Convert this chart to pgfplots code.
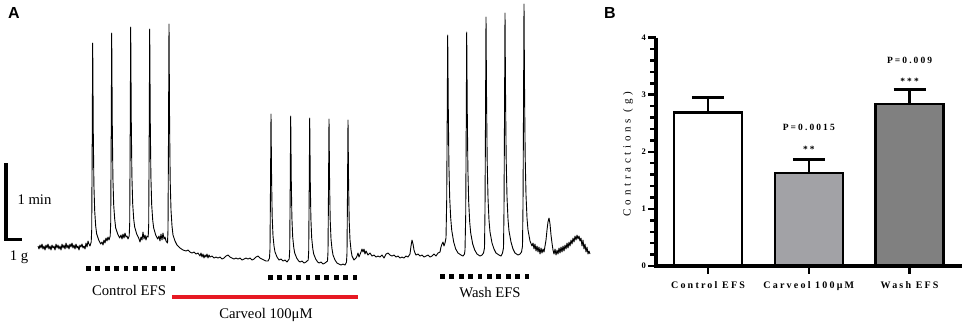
\documentclass[border=0pt]{standalone}
\usepackage{fontspec}
\setmainfont{Liberation Serif}
\newfontfamily\sansbf{Liberation Sans}
\newfontfamily\lsp[LetterSpace=22]{Liberation Serif}
\newfontfamily\lspy[LetterSpace=34]{Liberation Serif}
\usepackage{pgfplots}
\pgfplotsset{compat=1.18}
\definecolor{redbar}{RGB}{230,25,35}
\definecolor{carv}{RGB}{162,162,166}
\definecolor{wash}{RGB}{128,128,128}
\begin{document}
\begin{tikzpicture}
\useasboundingbox (0,0) rectangle (969pt,-327pt);
% ---------------- Panel A ----------------
\begin{axis}[at={(0pt,0pt)}, anchor=north west, scale only axis,
  width=969pt, height=327pt, xmin=0, xmax=969, ymin=0, ymax=327,
  y dir=reverse, hide axis, clip=false]
\addplot[black, line width=0.9pt, line join=round] coordinates {
(38,246)(39,249)(40,245)(41,248)(42,244)(43,249)(44,246)(45,250)(46,245)(47,248)
(48,244)(49,249)(50,246)(51,250)(52,245)(53,248)(54,246)(55,250)(56,244)(57,248)
(58,245)(59,249)(60,246)(61,250)(62,244)(63,248)(64,245)(65,249)(66,243)(67,248)
(68,245)(69,249)(70,244)(71,247)(72,243)(73,248)(74,245)(75,249)(76,244)(77,248)
(78,246)(79,250)(80,245)(81,247)(82,244)(83,248)(84,246)(85,249)(86,243)(87,247)
(88,241)(89,244)(90,246)
(91.2,242)(91.7,230)(92.2,144)(92.7,43)(93.3,134)(93.9,185)(94.7,211)(95.7,226)(96.7,234)(98.7,240)(100.7,244)
(102,242)(103,245)(104,240)(105,243)(106,238)(107,241)(108,237)(109,240)
(110.2,236)(110.7,223)(111.2,136)(111.7,33)(112.3,126)(112.9,178)(113.7,205)(114.7,219)(115.7,228)(117.7,234)(119.7,238)
(121,235)(122,239)(123,234)(124,238)(125,233)(126,237)(127,236)(128,239)
(129.2,236)(129.7,223)(130.2,134)(130.7,27)(131.3,123)(131.9,176)(132.7,204)(133.7,219)(134.7,227)(136.7,234)(138.7,238)
(140,242)(141,237)(142,240)(143,232)(144,239)(145,235)(146,240)(147,236)
(148.2,237)(148.7,224)(149.2,135)(149.7,29)(150.3,124)(150.9,177)(151.7,205)(152.7,220)(153.7,228)(155.7,235)(157.7,239)
(159,236)(160,241)(161,234)(162,240)(163,233)(164,239)(165,237)(166,241)
(167.5,243)(168,230)(168.5,136)(169,24)(169.6,125)(170.2,181)(171,210)(172,226)(173,235)(175,241)(177,245)(180,248)(183,250)(186,251)
(188,250)(190,252)(192,253)(194,252)(196,254)(198,253)(200,256)(201,253)(202,257)(203,254)(204,258)(205,255)(206,257)(207,254)
(208,258)(209,255)(210,257)(212,256)(214,258)(216,257)(218,258)(220,257)(222,259)(224,258)(226,256)(228,255)(230,257)
(232,258)(234,259)(236,258)(238,259)(240,258)(242,260)(244,259)(246,258)(248,259)(250,258)(252,260)(254,259)(256,257)
(258,256)(260,258)(262,259)(264,260)(266,261)(268,261)
(269.5,258)(270,249)(270.5,187)(271,114)(271.6,180)(272.2,217)(273,236)(274,246)(275,252)(277,257)(279,260)
(281,259)(283,261)(285,260)(287,262)
(289.2,259)(289.7,250)(290.2,189)(290.7,116)(291.3,182)(291.9,218)(292.7,237)(293.7,247)(294.7,253)(296.7,258)(298.7,261)
(300,262)(302,261)(304,263)(306,262)
(308.2,260)(308.7,251)(309.2,190)(309.7,118)(310.3,183)(310.9,219)(311.7,238)(312.7,248)(313.7,254)(315.7,259)(317.7,262)
(319,263)(321,262)(323,264)(325,263)
(327.5,261)(328,252)(328.5,191)(329,119)(329.6,184)(330.2,220)(331,239)(332,249)(333,255)(335,260)(337,263)
(339,264)(341,265)(343,264)(345,265)
(346.5,262)(347,253)(347.5,192)(348,120)(348.6,185)(349.2,221)(350,240)(351,250)(352,256)(354,260)(356,258)
(357,256)(358,253)(359,257)(361,252)(362,249)(363,252)(364,249)(365,254)(366,251)(368,255)(370,253)(372,256)(374,255)
(376,257)(378,256)(380,257)(382,255)(384,258)(386,254)(388,253)(390,255)(392,256)(394,255)(396,257)(398,256)(400,258)
(402,257)(404,258)(406,256)(408,257)(410,254)(411,246)(412,240)(413,244)(414,250)(415,253)(416,255)(418,254)(420,256)
(422,255)(424,257)(426,256)(428,255)(430,257)(432,256)(434,254)(436,256)(438,253)(440,252)(441,247)(442,244)(443,242)
(444,246)(445,243)(446,238)
(446.7,200)(447.2,120)(447.7,35)(448.3,110)(448.9,165)(449.7,198)(450.7,218)(451.7,230)(453.7,242)(455.7,249)(458,253)(461,255)(463,256)(464.5,254)
(465,250)(465.7,215)(466.2,130)(466.7,32)(467.3,115)(467.9,170)(468.7,202)(469.7,222)(470.7,233)(472.7,244)(474.7,250)(477,254)(480,256)(482,255)(483.5,253)
(484.5,248)(485,210)(485.5,120)(486,17)(486.6,105)(487.2,162)(488,198)(489,220)(490,232)(492,243)(494,249)(496,253)(499,255)(501,256)(502.5,253)
(503.5,248)(504,210)(504.5,118)(505,13)(505.6,103)(506.2,160)(507,197)(508,219)(509,231)(511,242)(513,249)(515,253)(518,255)(520,254)(521.5,252)
(522.5,246)(523,205)(523.5,112)(524,4)(524.6,98)(525.2,158)(526,195)(527,218)(528,230)(530,241)(532,246)(533,243)(534,249)
(535,244)(536,251)(537,246)(538,252)(539,247)(540,254)(541,248)(542,253)(543,249)(544,252)(545,246)(546,240)(547,230)
(548,222)(549,218)(550,224)(551,235)(552,243)(553,250)(554,254)(555,249)(556,255)(557,250)(558,254)(559,248)(560,253)
(561,247)(562,252)(563,246)(564,251)(565,245)(566,249)(567,243)(568,248)(569,242)(570,246)(571,240)(572,244)(573,238)
(574,242)(575,236)(576,240)(577,235)(578,239)(579,236)(580,241)(581,238)(582,246)(583,240)(584,249)(585,244)(586,252)
(587,247)(588,254)(589,251)(590,254)
};
% scale bar
\addplot[black, line width=3.5pt, line join=miter] coordinates {(6,163)(6,239.5)(22,239.5)};
% stimulation markers
\addplot[only marks, mark=square*, mark size=1.9pt, black] coordinates {
(88,268)(97.4,268)(106.8,268)(116.2,268)(125.6,268)(135,268)(144.4,268)(153.8,268)(163.2,268)(172.6,268)};
\addplot[only marks, mark=square*, mark size=1.9pt, black] coordinates {
(270,277)(279.4,277)(288.8,277)(298.2,277)(307.6,277)(317,277)(326.4,277)(335.8,277)(345.2,277)(354.6,277)};
\addplot[only marks, mark=square*, mark size=1.9pt, black] coordinates {
(442,276)(451.4,276)(460.8,276)(470.2,276)(479.6,276)(489,276)(498.4,276)(507.8,276)(517.2,276)(526.6,276)};
% drug bar
\addplot[redbar, line width=4pt] coordinates {(172,297)(358,297)};
\node[font=\fontsize{14.7}{16}\selectfont] at (129,290) {Control EFS};
\node[font=\fontsize{14.7}{16}\selectfont] at (266,315) {Carveol 100μM};
\node[font=\fontsize{14.7}{16}\selectfont] at (490,293) {Wash EFS};
\node[font=\fontsize{14.7}{16}\selectfont, anchor=west] at (14,200) {1 min};
\node[font=\fontsize{14.7}{16}\selectfont] at (19,257) {1 g};
\node[font=\sansbf\bfseries\fontsize{16}{18}\selectfont] at (14,13) {A};
\node[font=\sansbf\bfseries\fontsize{16}{18}\selectfont] at (610,13) {B};
\end{axis}
% ---------------- Panel B ----------------
\begin{axis}[at={(656pt,-266pt)}, anchor=south west, scale only axis,
  width=306pt, height=228.3pt,
  xmin=-0.516, xmax=2.52, ymin=0, ymax=4,
  axis lines=left,
  axis line style={-, draw=none},
  xtick={0,1,2}, xticklabels={Control EFS, Carveol 100μM, Wash EFS},
  ytick={0,1,2,3,4},
  major tick length=0pt, minor tick length=0pt,
  /pgf/number format/assume math mode=true,
  yticklabel style={font=\bfseries\fontsize{8.5}{9}\selectfont, inner sep=1pt, xshift=-9pt},
  xticklabel style={font=\lsp\bfseries\fontsize{10}{12}\selectfont, yshift=-12pt},
  ylabel={Contractions (g)},
  ylabel style={font=\lspy\fontsize{11}{12}\selectfont, at={(axis description cs:-0.0915,0.49)}, anchor=center},
  clip=false]
\addplot[ybar, bar width=68pt, bar shift=0pt, fill=white, draw=black, line width=2.6pt] coordinates {(0,2.69)};
\addplot[ybar, bar width=68pt, bar shift=0pt, fill=carv, draw=black, line width=2.6pt] coordinates {(1,1.63)};
\addplot[ybar, bar width=68pt, bar shift=0pt, fill=wash, draw=black, line width=2.6pt] coordinates {(2,2.84)};
% axis lines
\addplot[black, line width=3.3pt] coordinates {(-0.516,4)(-0.516,0)(2.52,0)};
% y major ticks
\addplot[only marks, mark=-, mark size=4.2pt, mark options={line width=2.6pt, black}] coordinates {
(-0.5577,0)(-0.5577,1)(-0.5577,2)(-0.5577,3)(-0.5577,4)};
% y minor ticks
\addplot[only marks, mark=-, mark size=2.8pt, mark options={line width=2.4pt, black}] coordinates {
(-0.5438,0.2)(-0.5438,0.4)(-0.5438,0.6)(-0.5438,0.8)
(-0.5438,1.2)(-0.5438,1.4)(-0.5438,1.6)(-0.5438,1.8)
(-0.5438,2.2)(-0.5438,2.4)(-0.5438,2.6)(-0.5438,2.8)
(-0.5438,3.2)(-0.5438,3.4)(-0.5438,3.6)(-0.5438,3.8)};
% x ticks
\addplot[only marks, mark=|, mark size=3.8pt, mark options={line width=2.6pt, black}] coordinates {
(0,-0.066)(1,-0.066)(2,-0.066)};
% error bars
\addplot[black, line width=2.6pt] coordinates {(0,2.69)(0,2.95)};
\addplot[black, line width=2.6pt] coordinates {(-0.159,2.95)(0.159,2.95)};
\addplot[black, line width=2.6pt] coordinates {(1,1.63)(1,1.87)};
\addplot[black, line width=2.6pt] coordinates {(0.841,1.87)(1.159,1.87)};
\addplot[black, line width=2.6pt] coordinates {(2,2.84)(2,3.09)};
\addplot[black, line width=2.6pt] coordinates {(1.841,3.09)(2.159,3.09)};
\node[font=\lsp\bfseries\fontsize{9.5}{11}\selectfont] at (axis cs:1,2.42) {P=0.0015};
\node[font=\lsp\bfseries\fontsize{9.5}{11}\selectfont] at (axis cs:1,2.05) {**};
\node[font=\lsp\bfseries\fontsize{9.5}{11}\selectfont] at (axis cs:2,3.6) {P=0.009};
\node[font=\lsp\bfseries\fontsize{9.5}{11}\selectfont] at (axis cs:2,3.24) {***};
\end{axis}
\end{tikzpicture}
\end{document}
